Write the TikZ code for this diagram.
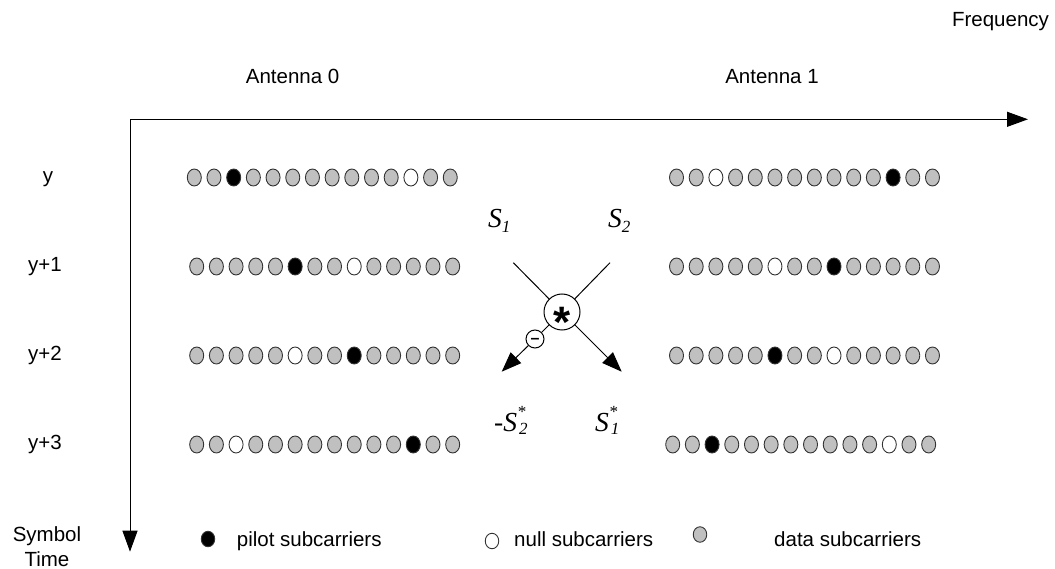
\documentclass[tikz,border=0pt]{standalone}
\usepackage{fontspec}
\setmainfont{Liberation Sans}
\newfontfamily\timesf{Liberation Serif}
\usetikzlibrary{arrows.meta,shapes.geometric}
\definecolor{subgray}{HTML}{C0C0C0}
\definecolor{rim}{HTML}{333333}
\newcommand\lblfont{\fontsize{20.5}{24}\selectfont}
\newcommand\bigSfont{\timesf\itshape\fontsize{27.5}{30}\selectfont}
\newcommand\smallSfont{\fontsize{17}{18}\selectfont}
\newcommand\Ssub[1]{S\raisebox{-4.5pt}{\smallSfont #1}}
\newcommand\Sstar[1]{S\makebox[0pt][l]{\raisebox{14pt}{\smallSfont *}}\raisebox{-3.5pt}{\hspace{2pt}\smallSfont #1}}
\tikzset{
  sc/.style={ellipse, draw=rim, line width=0.9pt, minimum width=14pt, minimum height=17pt, inner sep=0pt},
  legsc/.style={ellipse, draw=rim, line width=0.9pt, minimum width=13.5pt, minimum height=15.5pt, inner sep=0pt},
  lbl/.style={font=\lblfont, inner sep=0pt},
  slbl/.style={font=\bigSfont, inner sep=0pt, anchor=base west},
  axis/.style={line width=1pt, -{Triangle[length=21pt,width=15pt]}},
  cline/.style={line width=1pt},
  carrow/.style={line width=1pt, -{Triangle[length=20pt,width=15pt]}},
}
\begin{document}
\begin{tikzpicture}[x=1pt,y=-1pt]
\useasboundingbox (0,0) rectangle (1055,569);
% axes
\coordinate (origin) at (130,119.3);
\coordinate (freqend) at (1028,119.3);
\coordinate (timeend) at (130,551.7);
\draw[axis] (origin) -- (freqend);
\draw[axis] (origin) -- (timeend);
% titles
\node[lbl, anchor=base] (freq) at (1000.5,26.7) {Frequency};
\node[lbl, anchor=base] (ant0) at (292.6,84) {Antenna 0};
\node[lbl, anchor=base] (ant1) at (772,84) {Antenna 1};
% row labels
\node[lbl, anchor=base] (ry0) at (48,182.5) {y};
\node[lbl, anchor=base] (ry1) at (45,271.5) {y+1};
\node[lbl, anchor=base] (ry2) at (45,360.5) {y+2};
\node[lbl, anchor=base] (ry3) at (45,449.5) {y+3};
\node[lbl, anchor=base] (symb) at (47,541) {Symbol};
\node[lbl, anchor=base] (timel) at (47,566) {Time};
% subcarrier rows
\foreach \r/\yy/\xa/\pa/\na/\xb/\pb/\nb in {0/177.5/194.3/2/11/676.5/11/2, 1/266.5/196.7/5/8/676.5/8/5, 2/355.5/196.7/8/5/676.5/5/8, 3/444.5/196.7/11/2/672.7/2/11}{
  \foreach \i in {0,...,13}{
    \edef\fca{\ifnum\i=\pa\space black\else\ifnum\i=\na\space white\else subgray\fi\fi}
    \edef\fcb{\ifnum\i=\pb\space black\else\ifnum\i=\nb\space white\else subgray\fi\fi}
    \node[sc, fill=\fca] (a\r-\i) at (\xa+19.69*\i,\yy) {};
    \node[sc, fill=\fcb] (b\r-\i) at (\xb+19.69*\i,\yy) {};
  }
}
% centre: Alamouti cross
\node[slbl] (s1) at (488,228) {\Ssub{1}};
\node[slbl] (s2) at (608,228) {\Ssub{2}};
\node[slbl] (ms2) at (494,431) {-\Sstar{2}};
\node[slbl] (cs1) at (595,431) {\Sstar{1}};
\node[draw, circle, line width=1pt, minimum size=36pt, inner sep=0pt,
      font=\bfseries\fontsize{44}{44}\selectfont] (star) at (562,312)
      {\raisebox{-0.575em}[0.15em][0.15em]{*}};
\node[draw, circle, fill=white, line width=1pt, minimum size=18pt, inner sep=0pt,
      font=\bfseries\fontsize{16}{16}\selectfont] (minus) at (535,339)
      {\raisebox{-0.26em}[0.05em][0.05em]{–}};
\coordinate (s1a) at (513.3,262.7);
\coordinate (s2a) at (610,262.7);
\coordinate (tip1) at (501.7,371.7);
\coordinate (tip2) at (621.7,371.7);
\draw[cline] (s1a) -- (star);
\draw[cline] (s2a) -- (star);
\draw[cline] (star) -- (minus);
\draw[carrow] (minus) -- (tip1);
\draw[carrow] (star) -- (tip2);
% legend
\node[legsc, fill=black] (legpilot) at (208,539) {};
\node[lbl, anchor=base west] (legpilottxt) at (236.7,546) {pilot subcarriers};
\node[legsc, fill=white] (legnull) at (492,541) {};
\node[lbl, anchor=base west] (legnulltxt) at (514,546) {null subcarriers};
\node[legsc, fill=subgray] (legdata) at (700,534.5) {};
\node[lbl, anchor=base west] (legdatatxt) at (774,546) {data subcarriers};
\end{tikzpicture}
\end{document}
